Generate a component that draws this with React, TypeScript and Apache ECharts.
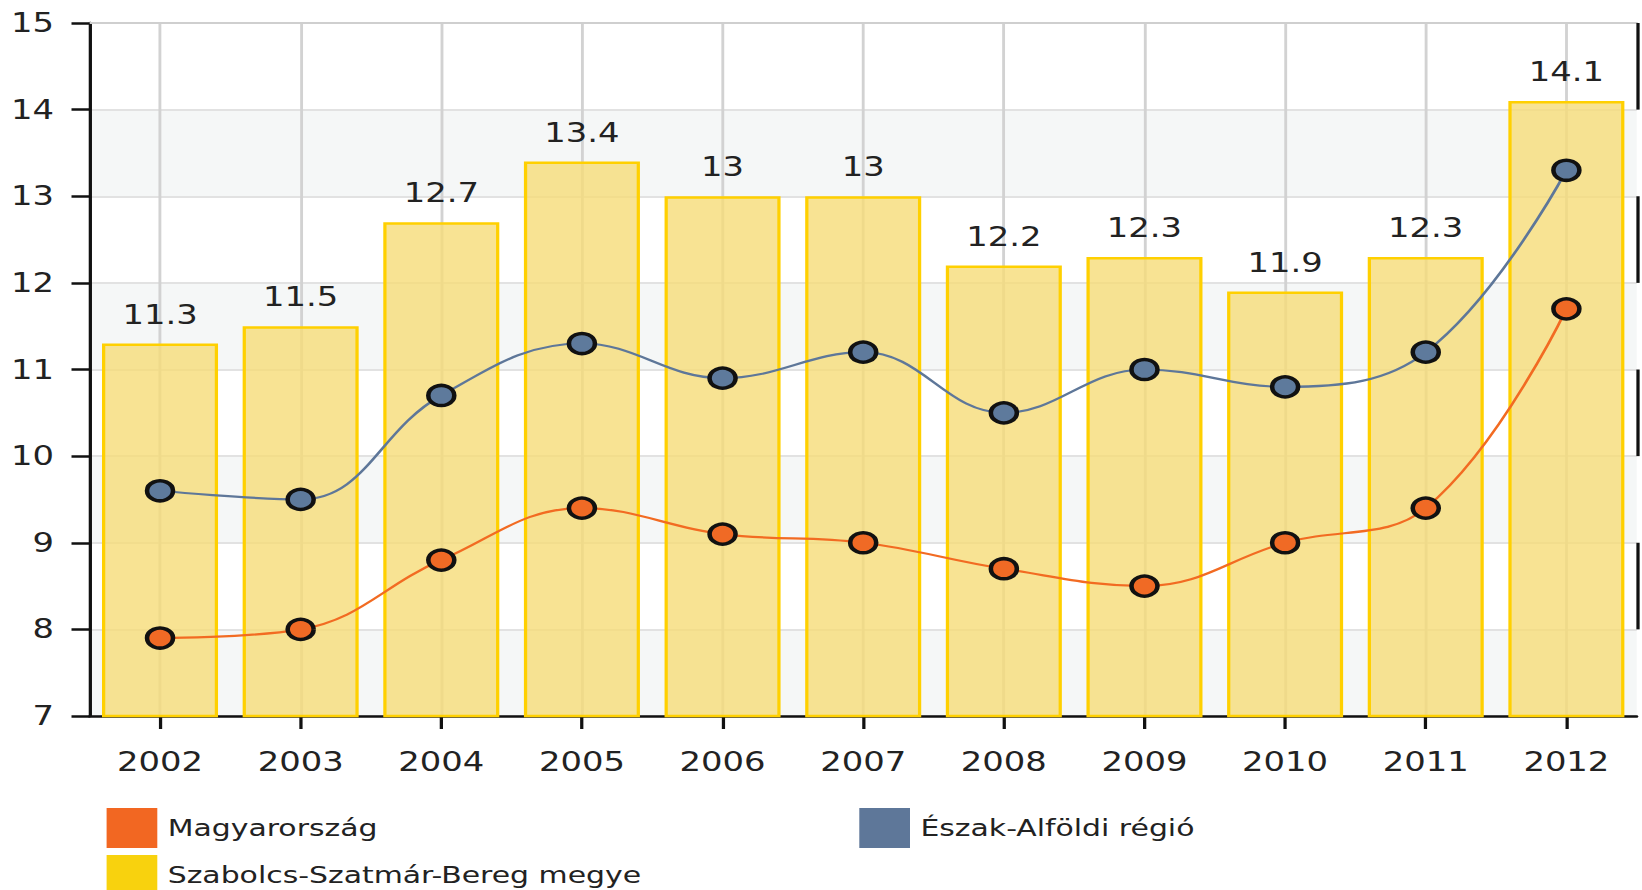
import React, { useEffect, useRef } from "react";
import * as echarts from "echarts";

const categories = ["2002", "2003", "2004", "2005", "2006", "2007", "2008", "2009", "2010", "2011", "2012"];
const megyeValues = [11.3, 11.5, 12.7, 13.4, 13, 13, 12.2, 12.3, 11.9, 12.3, 14.1];
const regioValues = [9.6, 9.5, 10.7, 11.3, 10.9, 11.2, 10.5, 11.0, 10.8, 11.2, 13.3];
const orszagValues = [7.9, 8.0, 8.8, 9.4, 9.1, 9.0, 8.7, 8.5, 9.0, 9.4, 11.7];
const yMin = 7;
const yMax = 15;
const yInterval = 1;

const NAME_ORSZAG = "Magyarország";
const NAME_REGIO = "Észak-Alföldi régió";
const NAME_MEGYE = "Szabolcs-Szatmár-Bereg megye";

const FONT = "DejaVu Sans, Verdana, sans-serif";
const STRETCH = 1.3;
const W = 1263;
const H = 890;
const GRID = { left: 69, right: 4, top: 23, bottom: 174 };

export default function App() {
  const ref = useRef<HTMLDivElement>(null);
  useEffect(() => {
    if (!ref.current) return;
    const chart = echarts.init(ref.current, null, { renderer: "svg" });
    const legendText = { fontSize: 23, color: "#222", fontFamily: FONT, padding: [0, 0, 0, 3] };
    chart.setOption({
      animation: false,
      backgroundColor: "#fff",
      grid: { ...GRID, containLabel: false },
      legend: [
        {
          left: 82, top: 808, padding: 0, icon: "rect", itemWidth: 39, itemHeight: 40,
          selectedMode: false, textStyle: legendText,
          data: [{ name: NAME_ORSZAG, itemStyle: { color: "#F26722", borderWidth: 0 } }],
        },
        {
          left: 661, top: 808, padding: 0, icon: "rect", itemWidth: 39, itemHeight: 40,
          selectedMode: false, textStyle: legendText,
          data: [{ name: NAME_REGIO, itemStyle: { color: "#5E7799", borderWidth: 0 } }],
        },
        {
          left: 82, top: 855, padding: 0, icon: "rect", itemWidth: 39, itemHeight: 40,
          selectedMode: false, textStyle: legendText,
          data: [{ name: NAME_MEGYE, itemStyle: { color: "#F8D20E", borderWidth: 0 } }],
        },
      ],
      xAxis: [
        {
          type: "category",
          data: categories,
          boundaryGap: true,
          axisLine: { show: true, lineStyle: { color: "#111", width: 2.5 } },
          axisTick: { show: true, alignWithLabel: true, length: 13, lineStyle: { color: "#111", width: 2.5 } },
          axisLabel: { fontSize: 26, color: "#222", fontFamily: FONT, margin: 33 },
          splitLine: { show: true, alignWithLabel: true, lineStyle: { color: "#D2D2D2", width: 2.2 } },
        },
        {
          type: "category",
          data: categories,
          position: "top",
          axisLine: { show: true, lineStyle: { color: "#CFCFCF", width: 2.2 } },
          axisTick: { show: false },
          axisLabel: { show: false },
          splitLine: { show: false },
        },
      ],
      yAxis: {
        type: "value",
        min: yMin,
        max: yMax,
        interval: yInterval,
        axisLine: { show: true, lineStyle: { color: "#111", width: 2.5 } },
        axisTick: { show: true, length: 14, lineStyle: { color: "#111", width: 2.5 } },
        axisLabel: { fontSize: 26, color: "#222", fontFamily: FONT, margin: 27.5 },
        splitLine: { show: true, lineStyle: { color: "#E2E2E2", width: 2 } },
        splitArea: { show: true, areaStyle: { color: ["#F5F7F7", "#FFFFFF"] } },
      },
      series: [
        {
          name: NAME_MEGYE,
          type: "bar",
          data: megyeValues,
          barWidth: "82.5%",
          itemStyle: { color: "rgba(246,220,120,0.8)", borderColor: "#FFD000", borderWidth: 2.5 },
          label: {
            show: true, position: "top", distance: 16,
            fontSize: 26, color: "#222", fontFamily: FONT,
          },
        },
        {
          name: NAME_REGIO,
          type: "line",
          data: regioValues,
          smooth: 0.4,
          symbol: "circle",
          symbolSize: 20,
          lineStyle: { color: "#5E7799", width: 2.2 },
          itemStyle: { color: "#5E7A9C", borderColor: "#111", borderWidth: 3.5 },
          z: 3,
        },
        {
          name: NAME_ORSZAG,
          type: "line",
          data: orszagValues,
          smooth: 0.4,
          symbol: "circle",
          symbolSize: 20,
          lineStyle: { color: "#F26B22", width: 2.2 },
          itemStyle: { color: "#F06A25", borderColor: "#111", borderWidth: 3.5 },
          z: 3,
        },
      ],
    });
    // Right border: visible only alongside the white bands (every second tick interval from the top)
    const xRight = W - GRID.right + 1;
    const borderLines: any[] = [];
    for (let v = yMin + yInterval; v < yMax; v += 2 * yInterval) {
      const y1 = chart.convertToPixel({ yAxisIndex: 0 }, v) as number;
      const y2 = chart.convertToPixel({ yAxisIndex: 0 }, v + yInterval) as number;
      borderLines.push({
        type: "line",
        shape: { x1: xRight, y1, x2: xRight, y2 },
        style: { stroke: "#111", lineWidth: 2.5 },
        z: 10,
      });
    }
    chart.setOption({ graphic: borderLines });
    return () => chart.dispose();
  }, []);
  return (
    <div
      ref={ref}
      style={{
        position: "absolute",
        left: 0,
        top: 0,
        width: W,
        height: H,
        transform: `scaleX(${STRETCH})`,
        transformOrigin: "0 0",
      }}
    />
  );
}
